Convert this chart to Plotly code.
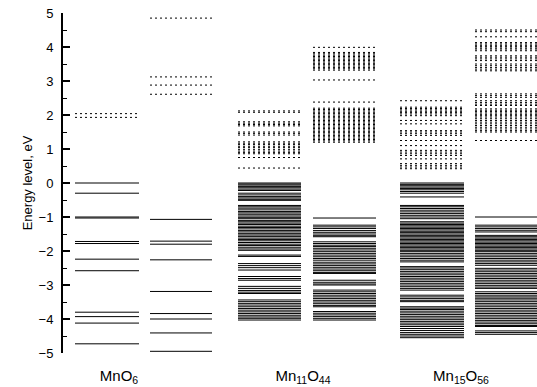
import plotly.graph_objects as go

# ---------------- data (energy levels, eV) ----------------
group_labels = ["MnO<sub>6</sub>", "Mn<sub>11</sub>O<sub>44</sub>", "Mn<sub>15</sub>O<sub>56</sub>"]
y_ticks = [-5, -4, -3, -2, -1, 0, 1, 2, 3, 4, 5]

mno6_up_occ = [0.00, -0.30, -1.00, -1.03, -1.72, -1.78, -2.24, -2.58, -3.80, -3.93, -4.12, -4.73]
mno6_up_unocc = [2.04, 1.93]
mno6_dn_occ = [-1.07, -1.71, -1.80, -2.26, -3.19, -3.84, -4.00, -4.41, -4.95]
mno6_dn_unocc = [4.85, 3.12, 2.88, 2.61]

mn11_up_occ = [0.00, -0.03, -0.06, -0.10, -0.14, -0.18, -0.22, -0.30, -0.35, -0.40, -0.44, -0.48, -0.51,
               -0.66, -0.70, -0.74, -0.79, -0.84, -0.88, -0.92, -0.97, -1.01, -1.05, -1.10, -1.14, -1.18,
               -1.22, -1.27, -1.31, -1.35, -1.40, -1.44, -1.49, -1.53, -1.57, -1.62, -1.66, -1.70, -1.75,
               -1.80, -1.84, -1.89, -1.94, -1.98, -2.12, -2.16, -2.37, -2.43, -2.49, -2.56, -2.75, -2.81,
               -2.86, -3.04, -3.10, -3.16, -3.21, -3.25, -3.44, -3.49, -3.54, -3.59, -3.64, -3.69, -3.74,
               -3.79, -3.84, -3.89, -3.94, -3.98, -4.03]
mn11_up_unocc = [2.12, 2.08, 1.80, 1.76, 1.72, 1.68, 1.50, 1.46, 1.41, 1.21, 1.17, 1.13, 1.08, 1.04,
                 0.99, 0.94, 0.90, 0.86, 0.75, 0.44]
mn11_dn_occ = [-1.03, -1.24, -1.29, -1.34, -1.40, -1.45, -1.50, -1.55, -1.58, -1.73, -1.78, -1.83, -1.87,
               -1.92, -1.97, -2.02, -2.07, -2.12, -2.17, -2.22, -2.27, -2.33, -2.38, -2.43, -2.48, -2.53,
               -2.58, -2.63, -2.66, -2.86, -2.92, -2.97, -3.00, -3.15, -3.20, -3.25, -3.30, -3.35, -3.40,
               -3.45, -3.50, -3.55, -3.60, -3.64, -3.78, -3.83, -3.88, -3.93, -3.98, -4.03]
mn11_dn_unocc = [3.99, 3.84, 3.80, 3.76, 3.72, 3.68, 3.64, 3.60, 3.56, 3.52, 3.48, 3.44, 3.40, 3.36, 3.32,
                 3.03, 2.38, 2.20, 2.16, 2.12, 2.08, 2.04, 2.00, 1.96, 1.92, 1.88, 1.84, 1.80, 1.76, 1.72,
                 1.68, 1.64, 1.60, 1.56, 1.52, 1.48, 1.44, 1.40, 1.36, 1.32, 1.28, 1.24, 1.20]

mn15_up_occ = [0.00, -0.04, -0.08, -0.12, -0.16, -0.20, -0.25, -0.30, -0.41, -0.66, -0.70, -0.75, -0.80,
               -0.85, -0.90, -0.95, -1.00, -1.05, -1.14, -1.18, -1.22, -1.26, -1.30, -1.34, -1.38, -1.42,
               -1.46, -1.50, -1.54, -1.58, -1.62, -1.66, -1.70, -1.74, -1.78, -1.82, -1.86, -1.90, -1.94,
               -1.98, -2.02, -2.07, -2.12, -2.17, -2.22, -2.27, -2.32, -2.46, -2.50, -2.55, -2.60, -2.65,
               -2.70, -2.75, -2.80, -2.85, -2.90, -2.95, -3.00, -3.05, -3.10, -3.15, -3.30, -3.35, -3.40,
               -3.45, -3.49, -3.64, -3.68, -3.72, -3.77, -3.82, -3.87, -3.92, -3.97, -4.02, -4.07, -4.12,
               -4.17, -4.22, -4.28, -4.34, -4.40, -4.45, -4.50, -4.55]
mn15_up_unocc = [2.42, 2.23, 2.19, 2.15, 2.11, 2.07, 2.03, 1.98, 1.84, 1.74, 1.54, 1.50, 1.45, 1.40, 1.25,
                 1.10, 0.96, 0.91, 0.86, 0.81, 0.71, 0.57, 0.52, 0.47, 0.42]
mn15_dn_occ = [-1.00, -1.24, -1.29, -1.34, -1.39, -1.44, -1.54, -1.58, -1.62, -1.66, -1.70, -1.74, -1.78,
               -1.82, -1.86, -1.90, -1.94, -1.98, -2.02, -2.07, -2.12, -2.17, -2.22, -2.27, -2.32, -2.37,
               -2.42, -2.51, -2.56, -2.61, -2.66, -2.71, -2.76, -2.81, -2.86, -2.91, -2.96, -3.01, -3.06,
               -3.10, -3.20, -3.25, -3.30, -3.35, -3.39, -3.44, -3.49, -3.54, -3.59, -3.64, -3.69, -3.74,
               -3.79, -3.84, -3.89, -3.94, -3.99, -4.04, -4.09, -4.14, -4.19, -4.22, -4.35, -4.40, -4.45]
mn15_dn_unocc = [4.50, 4.45, 4.30, 4.13, 4.09, 4.05, 4.01, 3.97, 3.94, 3.89, 3.74, 3.70, 3.65, 3.60, 3.50,
                 3.45, 3.40, 3.35, 3.30, 2.62, 2.57, 2.52, 2.42, 2.37, 2.32, 2.28, 2.18, 2.14, 2.10, 2.06,
                 2.02, 1.98, 1.94, 1.89, 1.84, 1.79, 1.74, 1.69, 1.64, 1.59, 1.54, 1.50, 1.25]

# ---------------- layout of columns (x in horizontal layout units) ----------------
columns = [
    ((12, 76), mno6_up_occ, mno6_up_unocc),
    ((87, 149), mno6_dn_occ, mno6_dn_unocc),
    ((175, 238), mn11_up_occ, mn11_up_unocc),
    ((250, 313), mn11_dn_occ, mn11_dn_unocc),
    ((337, 401), mn15_up_occ, mn15_up_unocc),
    ((412, 474), mn15_dn_occ, mn15_dn_unocc),
]
label_pos = [56, 240, 398]


def segs(x0, x1, levels):
    xs, ys = [], []
    for v in levels:
        xs += [x0, x1, None]
        ys += [v, v, None]
    return xs, ys


fig = go.Figure()
for (x0, x1), occ, unocc in columns:
    xs, ys = segs(x0, x1, occ)
    fig.add_trace(go.Scatter(x=xs, y=ys, mode="lines", hoverinfo="skip",
                             line=dict(color="black", width=1), showlegend=False))
    xs, ys = segs(x0, x1, unocc)
    fig.add_trace(go.Scatter(x=xs, y=ys, mode="lines", hoverinfo="skip",
                             line=dict(color="black", width=1, dash="2px,3px"), showlegend=False))

fig.update_layout(
    width=537, height=387,
    margin=dict(l=63, r=0, t=13, b=34),
    paper_bgcolor="white", plot_bgcolor="white",
    font=dict(family="Liberation Sans, Arial, sans-serif", color="black"),
    xaxis=dict(range=[0, 474], showline=False, showgrid=False, zeroline=False,
               tickmode="array", tickvals=label_pos, ticktext=group_labels,
               ticks="", tickfont=dict(size=15), ticklabelstandoff=12),
    yaxis=dict(range=[-5, 5], showline=True, linecolor="black", linewidth=2,
               showgrid=False, zeroline=False,
               tickmode="array", tickvals=y_ticks,
               ticks="inside", ticklen=7, tickwidth=1.5, tickcolor="black",
               minor=dict(ticks="inside", ticklen=4, tickwidth=1, tickcolor="black", dtick=0.5),
               tickfont=dict(size=13), ticklabelstandoff=5,
               title=dict(text="Energy level, eV", font=dict(size=13), standoff=3)),
)

fig.write_html("out.html")
